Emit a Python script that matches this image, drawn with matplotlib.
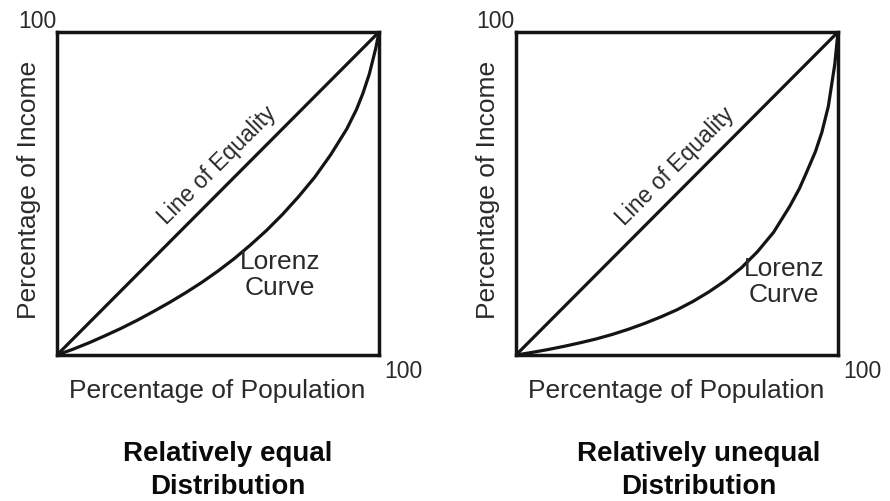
import matplotlib.pyplot as plt
import numpy as np

plt.rcParams['font.family'] = ['Liberation Sans', 'DejaVu Sans']

# population share (%) and income share (%)
pop_equal = [0, 5, 10, 15, 20, 25, 30, 35, 40, 45, 50, 55, 60, 65, 70, 75, 80, 85, 90, 93, 95, 97, 99, 100]
income_equal = [0, 1.8, 3.8, 6, 8.3, 10.8, 13.5, 16.3, 19.3, 22.5, 26, 29.8, 34, 38.5, 43.5, 49, 55, 62, 70, 76, 81, 87, 95, 100]
pop_unequal = [0, 5, 10, 15, 20, 25, 30, 35, 40, 45, 50, 55, 60, 65, 70, 75, 80, 85, 88, 90, 93, 95, 97, 99, 100]
income_unequal = [0, 0.8, 1.7, 2.7, 3.8, 5, 6.4, 8, 9.8, 11.8, 14, 16.6, 19.6, 23, 27, 32, 38, 46, 51.5, 56, 63, 69, 77, 90, 100]

titles = ['Relatively equal\nDistribution', 'Relatively unequal\nDistribution']
pops = [pop_equal, pop_unequal]
curves = [income_equal, income_unequal]
lorenz_pos = [(69.3, 25), (83.2, 23)]
equality_pos = [(49.7, 59), (49.4, 58.8)]
title_x = [228, 699]
boxes = [57, 516]

W, H = 890, 502
TXT = '#2a2a2a'
LN = '#141414'

def px(x, y):
    return x / W, 1 - y / H

def draw_panel(fig, left, pop, curve, title, tx, lpos, epos):
    ax = fig.add_axes([left / W, 1 - 356 / H, 322 / W, 323 / H])
    ax.set_xlim(0, 100)
    ax.set_ylim(0, 100)
    ax.plot([0, 100], [0, 100], color=LN, lw=2.3, solid_capstyle='round')
    ax.plot(pop, curve, color=LN, lw=2.3, solid_capstyle='round',
            solid_joinstyle='round')
    for s in ax.spines.values():
        s.set_linewidth(2.5)
        s.set_color(LN)
    ax.set_xticks([])
    ax.set_yticks([])

    fig.text(*px(left - 1, 28), '100', ha='right', va='baseline', fontsize=16.5, color=TXT)
    fig.text(*px(left + 327, 378), '100', ha='left', va='baseline', fontsize=16.5, color=TXT)
    fig.text(*px(left - 28, 190), 'Percentage of Income', rotation=90,
             ha='center', va='center', fontsize=19, color=TXT)
    fig.text(*px(left + 160, 398), 'Percentage of Population', ha='center',
             va='baseline', fontsize=19, color=TXT)
    ax.text(epos[0], epos[1], 'Line of Equality', rotation=45, ha='center',
            va='center', fontsize=16.5, color=TXT, rotation_mode='anchor')
    ax.text(lpos[0], lpos[1], 'Lorenz\nCurve', ha='center', va='center',
            fontsize=19, color=TXT, linespacing=1.1)
    line1, line2 = title.split('\n')
    fig.text(*px(tx, 461), line1, ha='center', va='baseline',
             fontsize=20, fontweight='bold', color='#0a0a0a')
    fig.text(*px(tx, 494), line2, ha='center', va='baseline',
             fontsize=20, fontweight='bold', color='#0a0a0a')

fig = plt.figure(figsize=(8.9, 5.02), dpi=100)
for i in range(2):
    draw_panel(fig, boxes[i], pops[i], curves[i], titles[i], title_x[i],
               lorenz_pos[i], equality_pos[i])
fig.savefig('out.png', dpi=100, facecolor='white')
